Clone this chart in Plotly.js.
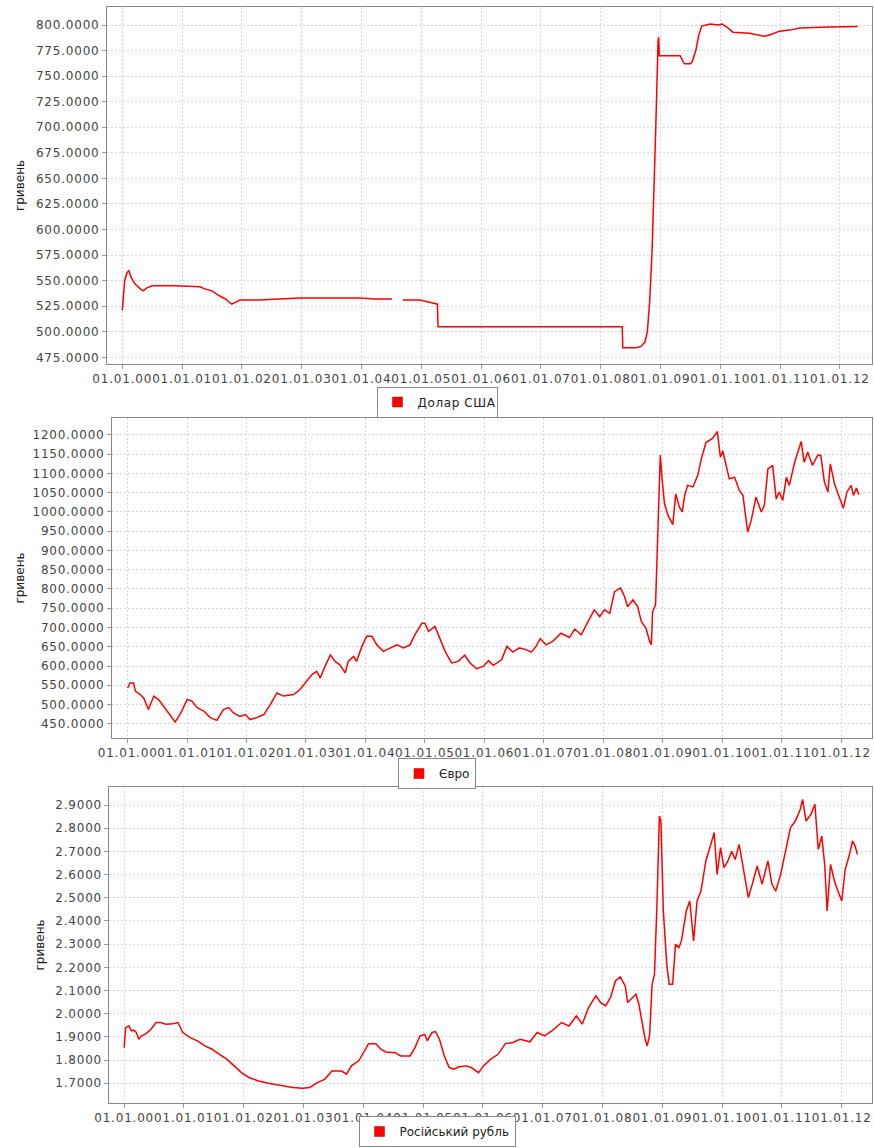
<!DOCTYPE html>
<html>
<head>
<meta charset="utf-8">
<script src="https://cdn.plot.ly/plotly-3.0.1.min.js"></script>
<style>
html, body { margin: 0; padding: 0; background: #ffffff; }
#chart .xtick text, #chart .x2tick text, #chart .x3tick text,
#chart .ytick text, #chart .y2tick text, #chart .y3tick text { letter-spacing: 0.8px; }
#chart .legendtext { letter-spacing: 0.6px; }
</style>
</head>
<body>
<div id="chart" style="width:874px;height:1148px;"></div>
<script>
// ---- tick labels (01.01.YY) ----
const yearTicks = [2000, 2001, 2002, 2003, 2004, 2005, 2006, 2007, 2008, 2009, 2010, 2011, 2012];
const yearLabels = ['01.01.00', '01.01.01', '01.01.02', '01.01.03', '01.01.04', '01.01.05', '01.01.06',
                    '01.01.07', '01.01.08', '01.01.09', '01.01.10', '01.01.11', '01.01.12'];

const seriesNames = ['Долар США', 'Євро', 'Російський рубль'];
const yTitle = 'гривень';

// ---- US dollar ----
const usdYears = [2000.00, 2000.01, 2000.04, 2000.08, 2000.11, 2000.15, 2000.21, 2000.30, 2000.35, 2000.41,
  2000.50, 2000.88, 2001.30, 2001.38, 2001.50, 2001.63, 2001.73, 2001.83, 2001.90, 2001.97,
  2002.30, 2002.80, 2002.97, 2003.64, 2003.97, 2004.22, 2004.51, 2004.55, 2004.69, 2004.97,
  2005.14, 2005.24, 2005.27, 2005.28, 2008.36, 2008.37, 2008.60, 2008.68, 2008.74, 2008.78,
  2008.82, 2008.86, 2008.89, 2008.92, 2008.96, 2008.97, 2008.98, 2009.33, 2009.37, 2009.40,
  2009.50, 2009.53, 2009.59, 2009.64, 2009.69, 2009.83, 2009.96, 2010.03, 2010.11, 2010.21,
  2010.49, 2010.63, 2010.74, 2010.86, 2010.99, 2011.16, 2011.33, 2011.83, 2012.30];
const usdValues = [521, 530, 550, 558, 560, 553, 547, 542, 540, 543,
  545, 545, 544, 542, 540, 535, 532, 527, 529, 531,
  531, 532, 533, 533, 533, 532, 532, null, 531, 531,
  529, 527, 527, 505, 505, 484.5, 484.5, 486, 490, 500,
  530, 580, 629, 697, 785, 788, 770, 770, 765, 762,
  762, 764, 775, 790, 799, 801, 800, 801, 798, 793,
  792, 790, 789, 791, 794, 795, 797, 798, 798.5];

// ---- Euro ----
const eurYears = [2000.00, 2000.04, 2000.10, 2000.13, 2000.21, 2000.27, 2000.35, 2000.44, 2000.52, 2000.60,
  2000.69, 2000.80, 2000.86, 2000.91, 2001.00, 2001.08, 2001.17, 2001.28, 2001.39, 2001.50,
  2001.61, 2001.70, 2001.78, 2001.89, 2001.98, 2002.06, 2002.17, 2002.29, 2002.40, 2002.51,
  2002.62, 2002.79, 2002.90, 2003.01, 2003.10, 2003.18, 2003.24, 2003.32, 2003.41, 2003.49,
  2003.57, 2003.66, 2003.71, 2003.80, 2003.85, 2003.94, 2004.02, 2004.11, 2004.19, 2004.30,
  2004.41, 2004.53, 2004.64, 2004.75, 2004.83, 2004.95, 2005.00, 2005.06, 2005.17, 2005.25,
  2005.34, 2005.45, 2005.56, 2005.67, 2005.76, 2005.87, 2005.98, 2006.07, 2006.15, 2006.29,
  2006.38, 2006.48, 2006.59, 2006.71, 2006.79, 2006.87, 2006.94, 2007.04, 2007.15, 2007.29,
  2007.43, 2007.52, 2007.63, 2007.74, 2007.85, 2007.94, 2008.02, 2008.11, 2008.19, 2008.29,
  2008.36, 2008.41, 2008.50, 2008.58, 2008.64, 2008.72, 2008.78, 2008.81, 2008.83, 2008.88,
  2008.91, 2008.94, 2008.96, 2008.99, 2009.03, 2009.09, 2009.17, 2009.22, 2009.28, 2009.33,
  2009.37, 2009.42, 2009.51, 2009.59, 2009.65, 2009.73, 2009.84, 2009.92, 2009.97, 2010.01,
  2010.12, 2010.21, 2010.29, 2010.35, 2010.43, 2010.49, 2010.57, 2010.66, 2010.71, 2010.77,
  2010.85, 2010.91, 2010.96, 2011.02, 2011.08, 2011.13, 2011.22, 2011.33, 2011.38, 2011.44,
  2011.52, 2011.61, 2011.66, 2011.72, 2011.78, 2011.82, 2011.89, 2011.97, 2012.04, 2012.10,
  2012.17, 2012.21, 2012.26, 2012.30];
const eurValues = [543, 556, 556, 535, 526, 517, 487, 522, 513, 496,
  478, 455, 469, 483, 513, 509, 492, 483, 466, 459,
  487, 492, 478, 469, 474, 461, 466, 474, 500, 530,
  522, 526, 539, 560, 578, 586, 569, 599, 629, 612,
  603, 582, 612, 625, 612, 651, 677, 677, 655, 638,
  647, 655, 647, 655, 681, 711, 711, 690, 703, 672,
  638, 608, 612, 628, 608, 593, 599, 614, 602, 616,
  651, 636, 647, 642, 636, 651, 671, 655, 664, 685,
  674, 696, 681, 714, 746, 728, 746, 737, 793, 803,
  780, 754, 772, 754, 716, 698, 664, 655, 741, 759,
  905, 991, 1148, 1086, 1022, 991, 967, 1047, 1013, 1000,
  1043, 1069, 1065, 1095, 1138, 1181, 1191, 1209, 1142, 1159,
  1086, 1090, 1056, 1043, 948, 978, 1039, 1000, 1017, 1112,
  1121, 1034, 1052, 1030, 1090, 1069, 1129, 1183, 1129, 1155,
  1121, 1148, 1147, 1078, 1052, 1125, 1073, 1039, 1010, 1052,
  1069, 1043, 1062, 1045];

// ---- Russian rouble ----
const rubYears = [2000.000, 2000.025, 2000.082, 2000.123, 2000.163, 2000.204, 2000.245, 2000.286, 2000.368, 2000.450,
  2000.531, 2000.613, 2000.695, 2000.817, 2000.899, 2000.981, 2001.104, 2001.226, 2001.349, 2001.471,
  2001.594, 2001.717, 2001.839, 2001.962, 2002.085, 2002.248, 2002.412, 2002.616, 2002.820, 2002.984,
  2003.106, 2003.229, 2003.352, 2003.474, 2003.638, 2003.719, 2003.801, 2003.924, 2004.006, 2004.087,
  2004.210, 2004.292, 2004.373, 2004.537, 2004.619, 2004.782, 2004.864, 2004.946, 2005.027, 2005.068,
  2005.150, 2005.207, 2005.273, 2005.354, 2005.436, 2005.518, 2005.600, 2005.722, 2005.804, 2005.927,
  2006.008, 2006.131, 2006.253, 2006.376, 2006.499, 2006.621, 2006.785, 2006.908, 2007.030, 2007.153,
  2007.316, 2007.439, 2007.562, 2007.660, 2007.766, 2007.888, 2007.970, 2008.052, 2008.134, 2008.215,
  2008.297, 2008.379, 2008.420, 2008.501, 2008.559, 2008.608, 2008.665, 2008.706, 2008.747, 2008.788,
  2008.829, 2008.869, 2008.910, 2008.951, 2008.976, 2009.017, 2009.074, 2009.115, 2009.172, 2009.221,
  2009.278, 2009.319, 2009.401, 2009.458, 2009.523, 2009.581, 2009.646, 2009.728, 2009.810, 2009.867,
  2009.916, 2009.973, 2010.030, 2010.096, 2010.161, 2010.218, 2010.284, 2010.341, 2010.382, 2010.439,
  2010.504, 2010.586, 2010.668, 2010.766, 2010.832, 2010.897, 2010.979, 2011.061, 2011.142, 2011.224,
  2011.305, 2011.346, 2011.403, 2011.486, 2011.551, 2011.608, 2011.666, 2011.715, 2011.756, 2011.813,
  2011.878, 2011.936, 2012.001, 2012.058, 2012.123, 2012.181, 2012.222, 2012.263];
const rubValues = [1.854, 1.940, 1.947, 1.926, 1.929, 1.919, 1.890, 1.904, 1.914, 1.933,
  1.962, 1.962, 1.955, 1.957, 1.962, 1.919, 1.897, 1.883, 1.861, 1.847,
  1.825, 1.804, 1.775, 1.746, 1.725, 1.710, 1.700, 1.692, 1.682, 1.679,
  1.682, 1.703, 1.717, 1.753, 1.753, 1.739, 1.775, 1.797, 1.832, 1.871,
  1.871, 1.847, 1.835, 1.832, 1.818, 1.818, 1.854, 1.904, 1.911, 1.883,
  1.919, 1.923, 1.890, 1.818, 1.768, 1.761, 1.771, 1.775, 1.768, 1.746,
  1.775, 1.804, 1.825, 1.871, 1.876, 1.890, 1.879, 1.919, 1.904, 1.926,
  1.962, 1.947, 1.991, 1.955, 2.026, 2.077, 2.048, 2.034, 2.070, 2.141,
  2.159, 2.120, 2.048, 2.070, 2.084, 2.041, 1.962, 1.897, 1.861, 1.911,
  2.127, 2.170, 2.472, 2.853, 2.831, 2.443, 2.213, 2.127, 2.127, 2.299,
  2.285, 2.314, 2.443, 2.486, 2.314, 2.486, 2.529, 2.659, 2.730, 2.781,
  2.601, 2.716, 2.630, 2.659, 2.701, 2.665, 2.730, 2.644, 2.572, 2.501,
  2.559, 2.637, 2.559, 2.659, 2.559, 2.529, 2.601, 2.695, 2.802, 2.831,
  2.881, 2.924, 2.831, 2.860, 2.903, 2.709, 2.766, 2.644, 2.443, 2.644,
  2.572, 2.529, 2.486, 2.623, 2.680, 2.745, 2.724, 2.687];

// ---- styling ----
const RED = '#ff0000';
const FONT = 'DejaVu Sans, Verdana, sans-serif';
const tickFont = { family: FONT, size: 12, color: '#444444' };

function lineTrace(x, y, xa, ya) {
  return { type: 'scatter', mode: 'lines', x: x, y: y, xaxis: xa, yaxis: ya,
           line: { color: RED, width: 1.5 }, connectgaps: false, showlegend: false, hoverinfo: 'x+y' };
}
function legendProxy(name, legendId, xa, ya) {
  return { type: 'scatter', mode: 'markers', x: [null], y: [null], xaxis: xa, yaxis: ya,
           name: name, legend: legendId, showlegend: true,
           marker: { symbol: 'square', size: 10, color: RED, line: { color: '#b00000', width: 0.5 } } };
}

const data = [
  lineTrace(usdYears, usdValues, 'x', 'y'),
  lineTrace(eurYears, eurValues, 'x2', 'y2'),
  lineTrace(rubYears, rubValues, 'x3', 'y3'),
  legendProxy(seriesNames[0], 'legend', 'x', 'y'),
  legendProxy(seriesNames[1], 'legend2', 'x2', 'y2'),
  legendProxy(seriesNames[2], 'legend3', 'x3', 'y3')
];

function xAxis(domain, range, anchor) {
  return { domain: domain, range: range, anchor: anchor, type: 'linear',
    tickmode: 'array', tickvals: yearTicks, ticktext: yearLabels, tickangle: 0,
    tickfont: tickFont, ticks: 'outside', ticklen: 4, tickcolor: '#999999',
    showline: true, linecolor: '#888888', linewidth: 1, mirror: true,
    showgrid: true, gridcolor: '#d6d6d6', griddash: '2px,2px', gridwidth: 1,
    zeroline: false, automargin: false, fixedrange: true };
}
function yAxis(domain, range, tick0, dtick, anchor, standoff) {
  return { domain: domain, range: range, anchor: anchor, type: 'linear',
    tick0: tick0, dtick: dtick, tickformat: '.4f',
    tickfont: tickFont, ticks: 'outside', ticklen: 4, tickcolor: '#999999',
    showline: true, linecolor: '#888888', linewidth: 1, mirror: true,
    showgrid: true, gridcolor: '#d6d6d6', griddash: '2px,2px', gridwidth: 1,
    zeroline: false, automargin: false, fixedrange: true,
    title: { text: yTitle, font: { family: FONT, size: 12, color: '#222222' }, standoff: standoff } };
}
function legendBox(yPos, anchor) {
  return { x: 0.5, xanchor: 'center', y: yPos, yanchor: anchor, orientation: 'h',
    bgcolor: '#ffffff', bordercolor: '#888888', borderwidth: 1,
    font: { family: FONT, size: 12, color: '#222222' }, itemclick: false, itemdoubleclick: false };
}

const layout = {
  width: 874, height: 1148,
  margin: { l: 0, r: 0, t: 0, b: 0, pad: 0 },
  paper_bgcolor: '#ffffff', plot_bgcolor: '#ffffff',
  font: { family: FONT, size: 12, color: '#333333' },
  showlegend: true,
  xaxis:  xAxis([0.1224, 0.9977], [1999.744, 2012.537], 'y'),
  yaxis:  yAxis([0.6829, 0.9939], [468.5, 817.6], 475, 25, 'x', 15),
  xaxis2: xAxis([0.1281, 0.9977], [1999.736, 2012.521], 'y2'),
  yaxis2: yAxis([0.3571, 0.6359], [413, 1244], 450, 50, 'x2', 12),
  xaxis3: xAxis([0.1252, 0.9977], [1999.754, 2012.506], 'y3'),
  yaxis3: yAxis([0.0392, 0.3145], [1.615, 2.978], 1.7, 0.1, 'x3', 12),
  legend:  legendBox(0.6498, 'middle'),
  legend2: legendBox(0.3262, 'middle'),
  legend3: legendBox(0.0009, 'bottom')
};

Plotly.newPlot('chart', data, layout, { displayModeBar: false, staticPlot: true });
</script>
</body>
</html>
